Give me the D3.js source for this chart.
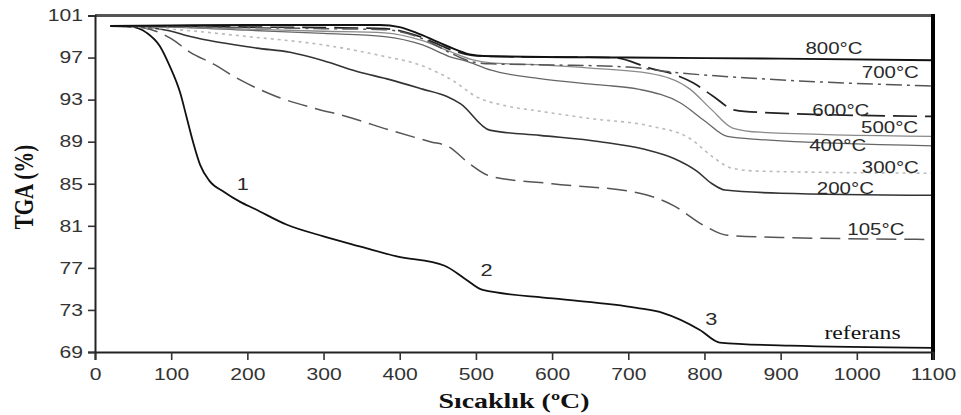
<!DOCTYPE html>
<html><head><meta charset="utf-8">
<script src="https://cdn.jsdelivr.net/npm/d3@7"></script>
<style>
html,body{margin:0;padding:0;background:#fff;}
svg{display:block;}
</style></head>
<body>
<svg id="chart" width="961" height="415"></svg>
<script>
// ---- data (temperature °C, TGA %) ----
const xTicks = [0,100,200,300,400,500,600,700,800,900,1000,1100];
const yTicks = [69,73,77,81,85,89,93,97,101];

const referans = [[20,100],[46,99.95],[68,99.35],[85,98.1],[98,96.2],[112,93.6],[120,91.4],[129,88.9],[138,86.8],[150,85.3],[170,84.2],[190,83.3],[210,82.6],[252,81.1],[300,80.0],[350,79.0],[396,78.1],[459,77.2],[485,76.0],[509,74.9],[601,74.1],[711,73.2],[746,72.7],[794,71.1],[820,69.9],[912,69.6],[1100,69.4]];
const c105 = [[20,100],[50,99.95],[72,99.7],[100,98.8],[125,97.5],[155,96.4],[190,94.9],[238,93.3],[287,92.2],[330,91.4],[387,90.1],[440,89.0],[465,88.5],[490,87.0],[520,85.7],[600,85.0],[715,84.1],[760,82.9],[800,81.0],[830,80.1],[900,79.9],[1100,79.7]];
const c200 = [[20,100],[60,99.9],[94,99.6],[125,99.0],[212,97.9],[256,97.5],[300,96.7],[343,95.7],[387,94.9],[430,94.0],[462,93.3],[480,92.6],[518,90.1],[584,89.6],[663,89.0],[720,88.3],[760,87.4],[790,86.2],[810,85.0],[827,84.4],[900,84.1],[1100,83.9]];
const c300 = [[20,100],[100,99.7],[200,99.0],[300,98.2],[374,97.2],[430,96.2],[470,94.8],[500,93.3],[540,92.4],[584,91.9],[650,91.2],[728,90.5],[781,89.3],[810,87.6],[835,86.5],[870,86.2],[1100,86.0]];
const c400 = [[20,100],[100,99.9],[200,99.6],[300,99.3],[380,99.0],[430,98.2],[465,97.1],[490,96.6],[520,95.8],[584,95.0],[663,94.4],[713,94.0],[768,92.7],[800,91.0],[830,89.5],[873,89.2],[1100,88.6]];
const c500 = [[20,100],[100,99.9],[200,99.7],[300,99.5],[380,99.35],[430,98.6],[465,97.6],[495,96.8],[520,96.5],[584,96.3],[650,96.0],[728,95.5],[781,94.0],[810,92.0],[837,90.3],[873,89.9],[1100,89.5]];
const c600 = [[20,100],[100,100],[200,99.9],[300,99.85],[380,99.75],[430,98.9],[465,97.8],[495,97.2],[520,97.1],[680,97.0],[728,96.0],[760,95.4],[785,94.6],[810,93.4],[840,92.0],[870,91.8],[1100,91.4]];
const c700 = [[20,100],[100,99.95],[200,99.85],[300,99.75],[380,99.65],[430,98.8],[465,97.5],[495,96.6],[520,96.4],[600,96.3],[700,96.1],[759,95.6],[870,95.0],[1100,94.3]];
const c800 = [[20,100],[100,100.05],[200,100.1],[300,100.1],[374,100.1],[400,99.9],[427,99.2],[462,98.1],[492,97.3],[510,97.15],[700,97.0],[900,96.9],[1100,96.75]];

const seriesNames = ["referans","105°C","200°C","300°C","400°C","500°C","600°C","700°C","800°C"];
const seriesData  = [referans,c105,c200,c300,c400,c500,c600,c700,c800];

// label anchors (temperature, TGA) for the text on the curves
const curveLabels = [
  {text:"800°C", t:970,  v:97.86},
  {text:"700°C", t:1044, v:95.57},
  {text:"600°C", t:979,  v:91.95},
  {text:"500°C", t:1043, v:90.33},
  {text:"400°C", t:975,  v:88.62},
  {text:"300°C", t:1044, v:86.52},
  {text:"200°C", t:985,  v:84.52},
  {text:"105°C", t:1025, v:80.62}
];
const stageLabels = [
  {text:"1", t:194, v:85.0},
  {text:"2", t:514, v:76.81},
  {text:"3", t:809, v:72.14}
];
const refLabel = {text:"referans", t:1007.5, v:70.81};
const xTitle = "Sıcaklık (ºC)";
const yTitle = "TGA (%)";

// ---- styles ----
const styles = {
  "referans": {stroke:"#111", w:1.8, dash:null},
  "105°C":   {stroke:"#555", w:1.5, dash:"20,8"},
  "200°C":   {stroke:"#333", w:1.6, dash:null},
  "300°C":   {stroke:"#bbb", w:1.6, dash:"3,4"},
  "400°C":   {stroke:"#666", w:1.3, dash:null},
  "500°C":   {stroke:"#8a8a8a", w:1.3, dash:null},
  "600°C":   {stroke:"#222", w:1.7, dash:"24,8"},
  "700°C":   {stroke:"#555", w:1.5, dash:"16,5,3,5"},
  "800°C":   {stroke:"#111", w:1.9, dash:null}
};

const svg = d3.select("#chart");
svg.append("rect").attr("width",961).attr("height",415).attr("fill","#fff");

const x = d3.scaleLinear().domain([0,1100]).range([95,933]);
const y = d3.scaleLinear().domain([69,101]).range([352,15.5]);
const SX = 1.28; // horizontal stretch of the original text

const line = d3.line().x(d=>x(d[0])).y(d=>y(d[1])).curve(d3.curveMonotoneX);

// curves
const g = svg.append("g");
seriesData.forEach((data,i)=>{
  const s = styles[seriesNames[i]];
  g.append("path").datum(data)
    .attr("d",line)
    .attr("fill","none")
    .attr("stroke",s.stroke)
    .attr("stroke-width",s.w)
    .attr("stroke-dasharray",s.dash)
    .attr("stroke-linejoin","round");
});

// frame: top & right
svg.append("line").attr("x1",x(0)).attr("x2",x(1100)).attr("y1",y(101)).attr("y2",y(101))
  .attr("stroke","#555").attr("stroke-width",3);
svg.append("line").attr("x1",x(1100)).attr("x2",x(1100)).attr("y1",y(101)-1.5).attr("y2",y(69)+8)
  .attr("stroke","#000").attr("stroke-width",4);

// axes
const xAxis = svg.append("g").attr("transform",`translate(0,${y(69)})`)
  .call(d3.axisBottom(x).tickValues(xTicks).tickSize(8).tickPadding(8).tickFormat(d3.format("d")));
const yAxis = svg.append("g").attr("transform",`translate(${x(0)},0)`)
  .call(d3.axisLeft(y).tickValues(yTicks).tickSize(7).tickPadding(3).tickFormat(d3.format("d")));
[xAxis,yAxis].forEach(a=>{
  a.select(".domain").attr("stroke","#222").attr("stroke-width",2);
  a.selectAll(".tick line").attr("stroke","#333").attr("stroke-width",1.6);
  a.selectAll(".tick text").attr("fill","#333")
    .style("font-family","'Liberation Sans', Arial, sans-serif").style("font-size","16.5px");
});
xAxis.selectAll(".tick text").attr("transform",`scale(${SX},1)`);
yAxis.selectAll(".tick text").attr("x",-12/SX).attr("transform",`scale(${SX},1)`);

// curve labels
const sans = "'Liberation Sans', Arial, sans-serif";
function stretchedText(sel, px, py, txt, size, family, weight, color){
  sel.append("text")
    .attr("transform",`translate(${px},${py}) scale(${SX},1)`)
    .attr("text-anchor","middle").attr("dy","0.35em")
    .style("font-family",family).style("font-size",size+"px").style("font-weight",weight||"normal")
    .attr("fill",color||"#222").text(txt);
}
const lg = svg.append("g");
curveLabels.forEach(l=>stretchedText(lg, x(l.t), y(l.v), l.text, 16, sans, "normal", "#2a2a2a"));
stageLabels.forEach(l=>stretchedText(lg, x(l.t), y(l.v), l.text, 17, sans, "normal", "#2a2a2a"));
stretchedText(lg, x(refLabel.t), y(refLabel.v), refLabel.text, 18.5, "'Liberation Serif','Times New Roman',serif", "normal", "#111");

// axis titles
const serif = "'Liberation Serif','Times New Roman',serif";
svg.append("text")
  .attr("transform",`translate(${(x(0)+x(1100))/2+0},${401}) scale(1.33,1)`)
  .attr("text-anchor","middle").attr("dy","0.35em")
  .style("font-family",serif).style("font-size","21px").style("font-weight","bold")
  .attr("fill","#111").text(xTitle);
svg.append("text")
  .attr("transform",`translate(23,187) scale(1.33,1) rotate(-90)`)
  .attr("text-anchor","middle").attr("dy","0.35em")
  .style("font-family",serif).style("font-size","21px").style("font-weight","bold")
  .attr("fill","#111").text(yTitle);
</script>
</body></html>
